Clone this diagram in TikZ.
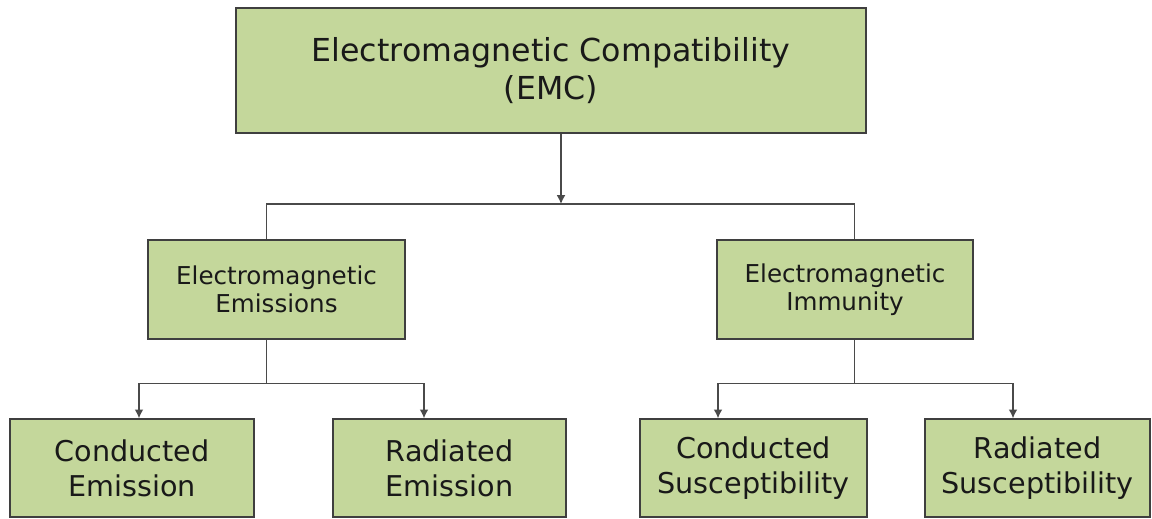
\documentclass[tikz,border=0pt]{standalone}
\usepackage{fontspec}
\setmainfont{DejaVu Sans}
\usepackage{tikz}
\usetikzlibrary{arrows.meta}

\definecolor{boxgreen}{HTML}{C4D79B}
\definecolor{boxline}{HTML}{3F3F3F}
\definecolor{linkgray}{HTML}{4A4A4A}

\tikzset{
	block/.style={draw=boxline, fill=boxgreen, line width=0.8pt, align=center, inner sep=0pt, text=black!90},
	link/.style={draw=linkgray, line width=0.8pt},
	bigtext/.style={font=\fontsize{18pt}{21.6pt}\selectfont},
	midtext/.style={font=\fontsize{14pt}{16pt}\selectfont},
	lowtext/.style={font=\fontsize{16.3pt}{20pt}\selectfont},
}

\begin{document}
\begin{tikzpicture}[x=0.02cm, y=0.02cm, >={Latex[length=5pt, width=5pt]}]

		\useasboundingbox (0, 0) rectangle (1152, -519);

		% Level 0: Root
		\node[block, bigtext, minimum width=12.6cm, minimum height=2.5cm] (EMC) at (551, -70.5)
			{Electromagnetic Compatibility\\(EMC)};

		% Level 1: Emissions / Immunity
		\node[block, midtext, minimum width=5.14cm, minimum height=1.98cm] (EMI) at (276.5, -289.5)
			{Electromagnetic\\Emissions};
		\node[block, midtext, minimum width=5.12cm, minimum height=1.98cm] (IMM) at (845, -289.5)
			{Electromagnetic\\Immunity};

		% Level 2: Conducted / Radiated
		\node[block, lowtext, minimum width=4.88cm, minimum height=1.96cm] (CE) at (132, -468)
			{Conducted\\Emission};
		\node[block, lowtext, minimum width=4.66cm, minimum height=1.96cm] (RE) at (449.5, -468)
			{Radiated\\Emission};
		\node[block, lowtext, minimum width=4.54cm, minimum height=1.96cm] (CS) at (753.5, -468)
			{Conducted\\Susceptibility};
		\node[block, lowtext, minimum width=4.5cm, minimum height=1.96cm] (RS) at (1037.5, -468)
			{Radiated\\Susceptibility};


		% --- Connections ---

		% Root to Level 1
		\coordinate (J0) at (561, -204);
		\draw[link, ->] (EMC.south -| J0) -- (J0);
		\draw[link] ([xshift=-0.2cm] EMI.north) |- (J0) -| ([xshift=0.19cm] IMM.north);

		% Emissions to Level 2
		\draw[link] ([xshift=-0.2cm] EMI.south) -- ++(0, -0.88cm) coordinate (J1);
		\draw[link, ->] (J1) -| ([xshift=0.14cm] CE.north);
		\draw[link, ->] (J1) -| ([xshift=-0.51cm] RE.north);

		% Immunity to Level 2
		\draw[link] ([xshift=0.19cm] IMM.south) -- ++(0, -0.88cm) coordinate (J2);
		\draw[link, ->] (J2) -| ([xshift=-0.71cm] CS.north);
		\draw[link, ->] (J2) -| ([xshift=-0.49cm] RS.north);

	\end{tikzpicture}
\end{document}
